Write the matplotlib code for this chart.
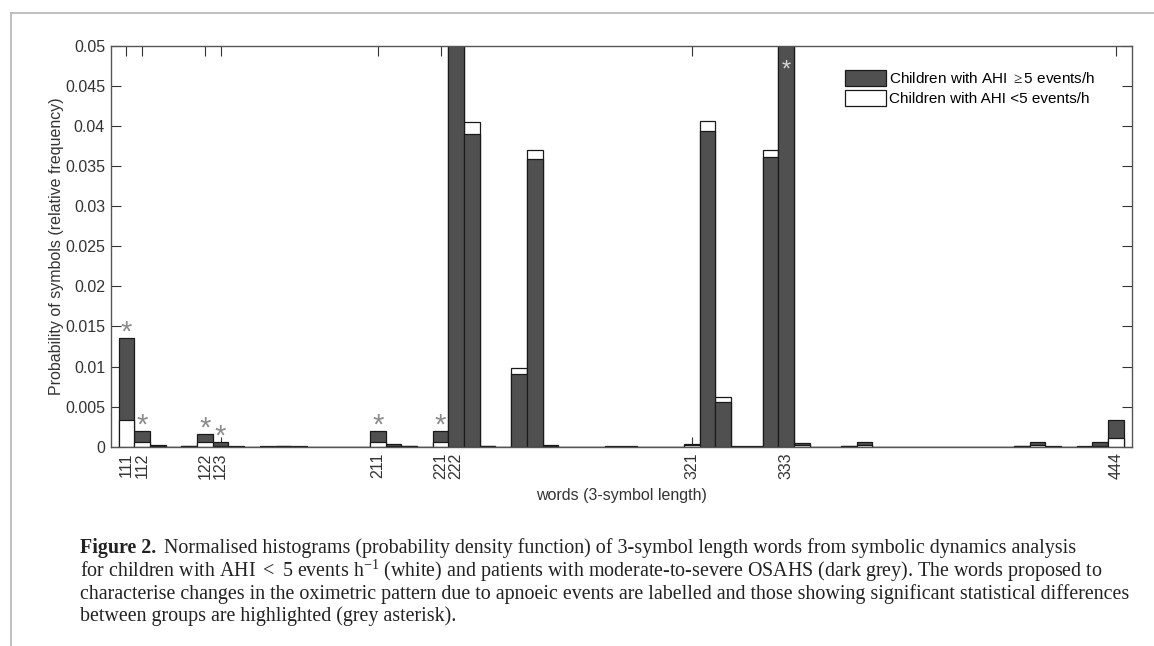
import matplotlib
matplotlib.use("Agg")
import matplotlib.pyplot as plt
from matplotlib.lines import Line2D

plt.rcParams["font.family"] = ["Liberation Sans", "DejaVu Sans"]
plt.rcParams["mathtext.fontset"] = "custom"
plt.rcParams["mathtext.rm"] = "Liberation Serif"
plt.rcParams["mathtext.it"] = "Liberation Serif:italic"

# 64 words of 3 symbols (alphabet 1..4)
words = [f"{a}{b}{c}" for a in "1234" for b in "1234" for c in "1234"]

# AHI >= 5 events/h (dark grey), index aligned with `words`
p_osahs = [
    0.0136, 0.0020, 0.0002, 0.0, 0.0001, 0.0016, 0.0006, 0.00003,
    0.0, 0.00003, 0.0001, 0.00003, 0.0, 0.0, 0.0, 0.0,
    0.0020, 0.0003, 0.00005, 0.0, 0.0020, 0.062, 0.0390, 0.00005,
    0.0, 0.0091, 0.0359, 0.0002, 0.0, 0.0, 0.0, 0.00003,
    0.00003, 0.0, 0.0, 0.0, 0.0003, 0.0394, 0.0056, 0.00003,
    0.00003, 0.0362, 0.068, 0.0005, 0.0, 0.0, 0.0001, 0.00055,
    0.0, 0.0, 0.0, 0.0, 0.0, 0.0, 0.0, 0.0,
    0.0, 0.00005, 0.0006, 0.00003, 0.0, 0.00003, 0.00055, 0.0033,
]
# AHI < 5 events/h (white)
p_ctrl = [
    0.0033, 0.00055, 0.0001, 0.0, 0.00005, 0.00055, 0.0001, 0.00002,
    0.0, 0.00002, 0.00005, 0.00002, 0.0, 0.0, 0.0, 0.0,
    0.00055, 0.0001, 0.00003, 0.0, 0.0006, 0.066, 0.0405, 0.00003,
    0.0, 0.0098, 0.0370, 0.0001, 0.0, 0.0, 0.0, 0.00002,
    0.00002, 0.0, 0.0, 0.0, 0.0002, 0.0406, 0.0062, 0.00002,
    0.00002, 0.0370, 0.072, 0.0002, 0.0, 0.0, 0.00005, 0.0002,
    0.0, 0.0, 0.0, 0.0, 0.0, 0.0, 0.0, 0.0,
    0.0, 0.00003, 0.0002, 0.00002, 0.0, 0.00002, 0.0001, 0.0011,
]

labelled = ["111", "112", "122", "123", "211", "221", "222", "321", "333", "444"]
significant = ["111", "112", "122", "123", "211", "221", "333"]

y_ticks = [0, 0.005, 0.01, 0.015, 0.02, 0.025, 0.03, 0.035, 0.04, 0.045, 0.05]
y_max = 0.05

DARK = "#505050"
INK = "#333333"

fig = plt.figure(figsize=(11.54, 6.46), dpi=100)
ax = fig.add_axes([0.0959, 0.3085, 0.8847, 0.6203])

x = list(range(len(words)))
bars_d = ax.bar(x, p_osahs, width=1.0, color=DARK, edgecolor="#1a1a1a",
                linewidth=0.9, label="Children with AHI $\\geq$5 events/h")
bars_w = ax.bar(x, p_ctrl, width=1.0, color="white", edgecolor="#1a1a1a",
                linewidth=0.9, label="Children with AHI <5 events/h")

# the smaller of the two bars is drawn in front
for bd, bw in zip(bars_d, bars_w):
    if bd.get_height() >= bw.get_height():
        bd.set_zorder(2)
        bw.set_zorder(3)
    else:
        bd.set_zorder(3)
        bw.set_zorder(2)

for w in significant:
    i = words.index(w)
    top = max(p_osahs[i], p_ctrl[i])
    if top < y_max:
        ax.annotate("*", xy=(i, top), xytext=(0, -3), textcoords="offset pixels",
                    ha="center", va="baseline", fontsize=21, color="#8c8c8c")
    else:
        ax.annotate("*", xy=(i, y_max), xytext=(0, -31), textcoords="offset pixels",
                    ha="center", va="baseline", fontsize=17, color="#d8d8d8")

ax.set_xlim(-1, len(words))
ax.set_ylim(0, y_max)
ax.set_yticks(y_ticks)
ax.set_yticklabels([f"{t:g}" for t in y_ticks])
ax.set_xticks([words.index(w) for w in labelled])
ax.set_xticklabels(labelled, rotation=90)

ax.tick_params(direction="in", length=7, width=0.8, colors=INK,
               labelsize=11.5, top=True, right=True, pad=4)
for sp in ax.spines.values():
    sp.set_color("#555555")
    sp.set_linewidth(1.0)
    sp.set_zorder(5)

ax.set_xlabel("words (3-symbol length)", fontsize=11.5, color=INK, labelpad=6)
ax.set_ylabel("Probability of symbols (relative frequency)", fontsize=11.5,
              color=INK, labelpad=1)

ax.legend(loc="upper right", bbox_to_anchor=(0.97, 0.955), frameon=False,
          fontsize=11, handlelength=2.65, handleheight=1.2, handletextpad=0.2,
          labelspacing=0.25, borderaxespad=0)

# page frame lines
fig.add_artist(Line2D([0.0093, 1.0], [0.9794, 0.9794], color="#b4b4b4", lw=1.2))
fig.add_artist(Line2D([0.0093, 0.0093], [0.0, 0.9794], color="#b4b4b4", lw=1.2))

# caption
cap_fs = 14.4
serif = ["Liberation Serif", "DejaVu Serif"]
x0 = 80 / 1154
lines_y = [548, 571, 594, 616]
head = fig.text(x0, 1 - lines_y[0] / 646, "Figure 2.", fontsize=cap_fs,
                fontweight="bold", family=serif, va="center", color="#222222")
renderer = fig.canvas.get_renderer()
bb = head.get_window_extent(renderer)
fig.text((bb.x1 + 8) / 1154, 1 - lines_y[0] / 646,
         "Normalised histograms (probability density function) of 3-symbol length "
         "words from symbolic dynamics analysis",
         fontsize=cap_fs, family=serif, va="center", color="#222222")
caption_rest = [
    "for children with AHI $<$ 5 events h$^{-1}$ (white) and patients with "
    "moderate-to-severe OSAHS (dark grey). The words proposed to",
    "characterise changes in the oximetric pattern due to apnoeic events are "
    "labelled and those showing significant statistical differences",
    "between groups are highlighted (grey asterisk).",
]
for yy, line in zip(lines_y[1:], caption_rest):
    fig.text(x0, 1 - yy / 646, line, fontsize=cap_fs, family=serif,
             va="center", color="#222222")

fig.savefig("out.png", dpi=100)
